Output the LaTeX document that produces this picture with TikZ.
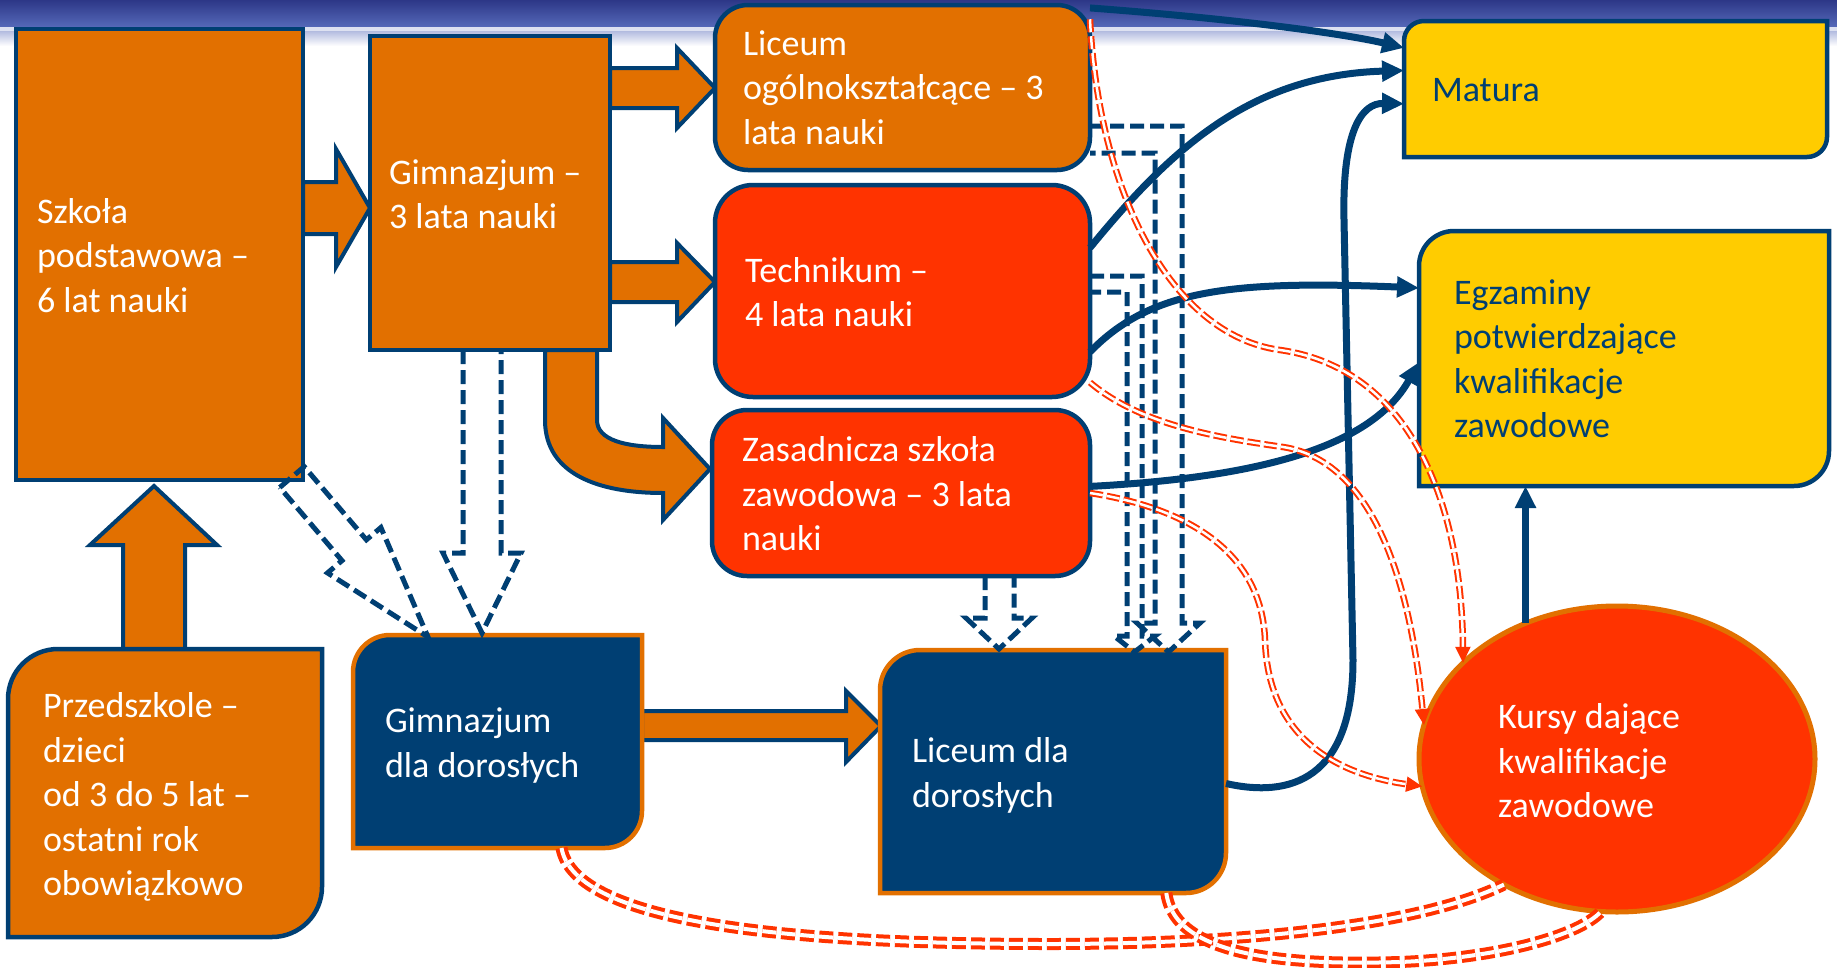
\documentclass[tikz,border=0pt]{standalone}
\usepackage{fontspec}
\setmainfont{Carlito}
\usetikzlibrary{arrows.meta,shapes.geometric,positioning}

\definecolor{navy}{RGB}{0,63,115}
\definecolor{boxorange}{RGB}{226,112,0}
\definecolor{boxred}{RGB}{255,51,0}
\definecolor{boxyellow}{RGB}{255,204,0}
\definecolor{bannertop}{RGB}{45,55,135}
\definecolor{bannerbot}{RGB}{85,105,185}

\tikzstyle{every node}=[inner sep=0pt, outer sep=0pt]
\tikzstyle{orangebox}=[fill=boxorange, draw=navy, line width=4.5pt]
\tikzstyle{redbox}=[fill=boxred, draw=navy, line width=4.5pt]
\tikzstyle{yellowbox}=[fill=boxyellow, draw=navy, line width=4.5pt]
\tikzstyle{navybox}=[fill=navy, draw=boxorange, line width=4.5pt]
\tikzstyle{boxtext}=[text=white, align=left, font=\fontsize{36}{44.5}\selectfont, yshift=-4pt]
\tikzstyle{blockarrow}=[fill=boxorange, draw=navy, line width=4pt]
\tikzstyle{hollowarrow}=[draw=navy, line width=5pt, dash pattern=on 14pt off 6pt]
\tikzstyle{route}=[draw=navy, line width=7pt, -{Triangle[length=22pt,width=20pt]}]
\tikzstyle{redpath}=[draw=boxred, double=white, line width=2pt, double distance=2.5pt,
  dash pattern=on 13pt off 4pt, -{Triangle[length=16pt,width=15pt]}]
\tikzstyle{redthick}=[draw=boxred, double=white, line width=4pt, double distance=4pt,
  dash pattern=on 14pt off 5pt]

% box with rounded top-left and bottom-right corners
\newcommand{\tlbrbox}[3]{%
  \path[#2] (#1.north) [sharp corners] -- (#1.north east) -- (#1.east)
    [rounded corners=#3] -- (#1.south east) -- (#1.south)
    [sharp corners] -- (#1.south west) -- (#1.west)
    [rounded corners=#3] -- (#1.north west) -- cycle;}

\begin{document}
\begin{tikzpicture}[x=1pt, y=-1pt]
  \useasboundingbox (0,0) rectangle (1837,967);
  % banner
  \shade[top color=bannertop, bottom color=bannerbot] (0,0) rectangle (1837,27);
  \fill[white!80!bannerbot] (0,27) rectangle (1837,31);
  \shade[top color=bannerbot!45, bottom color=white] (0,31) rectangle (1837,46);

  % block arrows
  \path[blockarrow] (303,182) -- (336,182) -- (336,149) -- (370,208) -- (336,267)
    -- (336,234) -- (303,234) -- cycle;
  \path[blockarrow] (610,68) -- (677,68) -- (677,48) -- (715,88) -- (677,128)
    -- (677,108) -- (610,108) -- cycle;
  \path[blockarrow] (610,262) -- (677,262) -- (677,243) -- (715,282) -- (677,322)
    -- (677,302) -- (610,302) -- cycle;
  \path[blockarrow] (545,350) -- (545,420) .. controls (545,475) and (600,493) .. (663,493)
    -- (663,520) -- (710,469) -- (663,418) -- (663,447)
    .. controls (625,447) and (597,440) .. (597,420) -- (597,350) -- cycle;
  \path[blockarrow] (123,649) -- (123,545) -- (90,545) -- (154,486) -- (217,545)
    -- (185,545) -- (185,649) -- cycle;
  \path[blockarrow] (642,711) -- (846,711) -- (846,691) -- (881,726) -- (846,762)
    -- (846,740) -- (642,740) -- cycle;

  % schools
  \node[orangebox, minimum width=287pt, minimum height=451pt] (szkola) at (159.5,254.5) {};
  \node[orangebox, minimum width=240pt, minimum height=314pt] (gim) at (490,193) {};
  \node[orangebox, rounded corners=33pt, minimum width=375pt, minimum height=165pt] (lo) at (902.5,87.5) {};
  \node[redbox, rounded corners=38pt, minimum width=375pt, minimum height=212pt] (tech) at (902.5,291) {};
  \node[redbox, rounded corners=35pt, minimum width=378pt, minimum height=166pt] (zas) at (901,493) {};
  \node[minimum width=423pt, minimum height=136pt] (matura) at (1615.5,89) {};
  \tlbrbox{matura}{yellowbox}{20pt}
  \node[minimum width=410pt, minimum height=255pt] (egz) at (1624,358.5) {};
  \tlbrbox{egz}{yellowbox}{35pt}
  \node[minimum width=314pt, minimum height=288pt] (przed) at (165,793) {};
  \tlbrbox{przed}{orangebox}{50pt}
  \node[minimum width=289pt, minimum height=213pt] (gimdd) at (497.5,741.5) {};
  \tlbrbox{gimdd}{navybox}{37pt}
  \node[minimum width=346pt, minimum height=243pt] (licdd) at (1053,771.5) {};
  \tlbrbox{licdd}{navybox}{40pt}
  \node[ellipse, fill=boxred, draw=boxorange, line width=5pt, minimum width=396pt,
    minimum height=306pt] (kursy) at (1617,759) {};

  % texts
  \node[boxtext, yshift=3pt, right=21pt of szkola.west] (szkola-t) {Szkoła\\podstawowa –\\6 lat nauki};
  \node[boxtext, yshift=3pt, right=19pt of gim.west] (gim-t) {Gimnazjum –\\3 lata nauki};
  \node[boxtext, yshift=4pt, right=28pt of lo.west] (lo-t) {Liceum\\ogólnokształcące – 3\\lata nauki};
  \node[boxtext, yshift=3pt, right=30pt of tech.west] (tech-t) {Technikum –\\4 lata nauki};
  \node[boxtext, yshift=3pt, right=30pt of zas.west] (zas-t) {Zasadnicza szkoła\\zawodowa – 3 lata\\nauki};
  \node[boxtext, text=navy, yshift=3pt, right=28pt of matura.west] (matura-t) {Matura};
  \node[boxtext, text=navy, yshift=4pt, right=35pt of egz.west] (egz-t) {Egzaminy\\potwierdzające\\kwalifikacje\\zawodowe};
  \node[boxtext, right=35pt of przed.west] (przed-t) {Przedszkole –\\dzieci\\od 3 do 5 lat –\\ostatni rok\\obowiązkowo};
  \node[boxtext, right=32pt of gimdd.west] (gimdd-t) {Gimnazjum\\dla dorosłych};
  \node[boxtext, right=32pt of licdd.west] (licdd-t) {Liceum dla\\dorosłych};
  \node[boxtext, yshift=2pt, right=79pt of kursy.west] (kursy-t) {Kursy dające\\kwalifikacje\\zawodowe};

  % dashed hollow arrows
  \draw[hollowarrow] (279.8,487.4) -- (304.2,466.6) -- (366.4,539.8) -- (380.9,527.5)
    -- (428,637) -- (327.5,572.9) -- (342,560.6) -- cycle;
  \draw[hollowarrow] (463,350) -- (463,553) -- (443,553) -- (482,633) -- (521,553)
    -- (501,553) -- (501,350);
  \draw[hollowarrow] (985,576) -- (985,618) -- (966,618) -- (999,649) -- (1032,618)
    -- (1014,618) -- (1014,576);
  \draw[hollowarrow] (1090,126) -- (1182,126) -- (1182,623) -- (1200,623) -- (1168.5,652)
    -- (1137,623) -- (1155,623) -- (1155,153) -- (1090,153);
  \draw[hollowarrow] (1090,276) -- (1142,276) -- (1142,636) -- (1155,636) -- (1134.5,652)
    -- (1114,636) -- (1127,636) -- (1127,292) -- (1090,292);

  % routes to exams
  \draw[route] (lo.23) .. controls (1250,20) and (1350,35) .. (matura.169);
  \draw[route] (tech.13) .. controls (1170,150) and (1250,75) .. (matura.175);
  \draw[route] ([yshift=-12pt]licdd.east) .. controls (1290,798) and (1353,780) .. (1353,660)
    -- (1344,220) .. controls (1342,130) and (1362,103) .. (matura.184);
  \draw[route] (tech.-18) .. controls (1150,290) and (1230,280) .. (egz.161);
  \draw[route] (zas.2) .. controls (1250,478) and (1370,450) .. (egz.181);
  \draw[route] (kursy.124) -- (kursy.124 |- egz.south);

  % routes to courses
  \draw[redpath] (lo.20) .. controls (1098,190) and (1170,335) .. (1280,350)
    .. controls (1420,370) and (1462,520) .. (kursy.148);
  \draw[redpath] (tech.-26) .. controls (1140,425) and (1220,438) .. (1283,447)
    .. controls (1380,462) and (1412,600) .. (kursy.170);
  \draw[redpath] (zas.east) .. controls (1200,510) and (1262,560) .. (1265,640)
    .. controls (1268,740) and (1340,775) .. (kursy.188);
  \draw[redthick] (gimdd.-59) .. controls (575,925) and (800,944) .. (1050,944)
    .. controls (1250,944) and (1420,925) .. (kursy.228);
  \draw[redthick] (licdd.-47) .. controls (1175,960) and (1300,965) .. (1400,962)
    .. controls (1500,958) and (1580,935) .. (kursy.264);
\end{tikzpicture}
\end{document}
